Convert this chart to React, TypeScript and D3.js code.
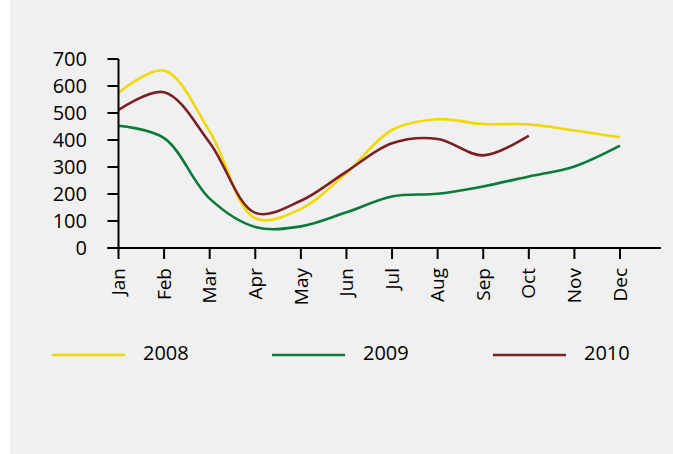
import React from 'react';
import * as d3 from 'd3';

const months = ['Jan', 'Feb', 'Mar', 'Apr', 'May', 'Jun', 'Jul', 'Aug', 'Sep', 'Oct', 'Nov', 'Dec'];
const yTicks = [0, 100, 200, 300, 400, 500, 600, 700];

const values2008 = [575, 657, 432, 110, 145, 278, 437, 477, 459, 458, 435, 410];
const values2009 = [453, 407, 183, 78, 80, 132, 191, 201, 228, 265, 302, 379];
const values2010 = [511, 577, 390, 130, 175, 283, 388, 404, 343, 416];

const seriesNames = ['2008', '2009', '2010'];
const seriesColors = ['#f0d800', '#0a7a3c', '#7a2025'];

const FONT = '"Open Sans", sans-serif';

export default function App() {
  const width = 673;
  const height = 454;

  // Scales
  const x = d3.scaleLinear().domain([0, 11]).range([118.5, 620]);
  const y = d3.scaleLinear().domain([0, 700]).range([248, 59]);

  const line = d3
    .line<number>()
    .x((_, i) => x(i))
    .y((d) => y(d))
    .curve(d3.curveCatmullRom.alpha(0.5));

  const allSeries = [values2008, values2009, values2010];
  const tickLen = 11;
  const legendX = [52, 272, 493];

  return (
    <svg
      width={width}
      height={height}
      style={{ position: 'absolute', left: 0, top: 0, background: '#fff' }}
    >
      {/* Panel background */}
      <rect x={10} y={0} width={width - 10} height={height} fill="#f0f0f0" />

      {/* Series lines */}
      {allSeries.map((vals, i) => (
        <path
          key={seriesNames[i]}
          d={line(vals) || ''}
          fill="none"
          stroke={seriesColors[i]}
          strokeWidth={2.6}
        />
      ))}

      {/* Y axis */}
      <line x1={x(0)} x2={x(0)} y1={y(700)} y2={y(0)} stroke="#000" strokeWidth={2} />
      {yTicks.map((t) => (
        <g key={t}>
          <line x1={x(0) - tickLen} x2={x(0)} y1={y(t)} y2={y(t)} stroke="#000" strokeWidth={2} />
          <text
            x={87}
            y={y(t)}
            dy="0.35em"
            textAnchor="end"
            fontFamily={FONT}
            fontSize={20}
            fill="#000"
          >
            {t}
          </text>
        </g>
      ))}

      {/* X axis */}
      <line x1={x(0) - tickLen} x2={x(11.9)} y1={y(0)} y2={y(0)} stroke="#000" strokeWidth={2} />
      {months.map((m, i) => (
        <g key={m}>
          <line x1={x(i)} x2={x(i)} y1={y(0)} y2={y(0) + tickLen} stroke="#000" strokeWidth={2} />
          <text
            transform={`translate(${x(i)},${y(0) + 20}) rotate(-90)`}
            dy="0.35em"
            textAnchor="end"
            fontFamily={FONT}
            fontSize={19}
            fill="#000"
          >
            {m}
          </text>
        </g>
      ))}

      {/* Legend */}
      {seriesNames.map((name, i) => (
        <g key={name}>
          <line
            x1={legendX[i]}
            x2={legendX[i] + 73}
            y1={355}
            y2={355}
            stroke={seriesColors[i]}
            strokeWidth={2.6}
          />
          <text x={legendX[i] + 91} y={360} fontFamily={FONT} fontSize={20} fill="#000">
            {name}
          </text>
        </g>
      ))}
    </svg>
  );
}
